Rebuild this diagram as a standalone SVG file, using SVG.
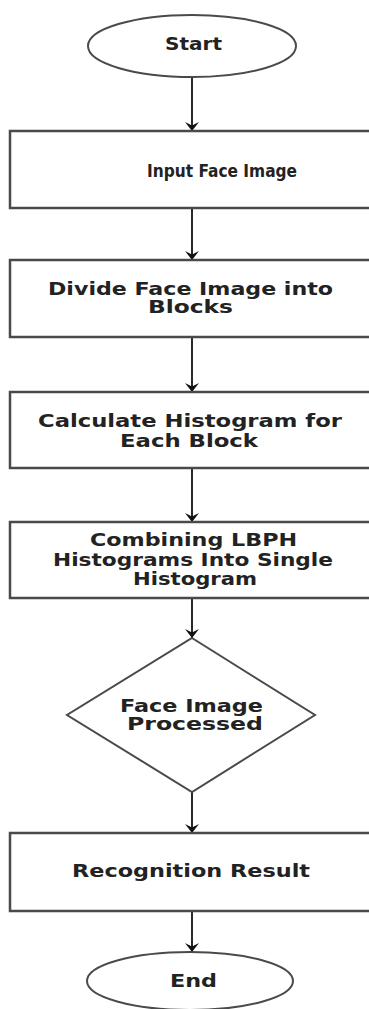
<svg xmlns="http://www.w3.org/2000/svg" width="369" height="1009" viewBox="0 0 369 1009">
  <style>
    .shape { fill: #ffffff; stroke: #4a4a4a; stroke-width: 2; }
    .box { fill: #ffffff; stroke: #4a4a4a; stroke-width: 2.5; }
    .label { font-family: "DejaVu Sans", "Liberation Sans", sans-serif; font-weight: bold; font-size: 17px; fill: #222222; text-anchor: middle; }
    .link { stroke: #111111; stroke-width: 1.8; fill: none; marker-end: url(#head); }
  </style>
  <defs>
    <!-- chevron-shaped arrowhead, drawn along +x so orient="auto" turns it down the line -->
    <marker id="head" viewBox="0 0 9 14" refX="9" refY="7" markerWidth="9" markerHeight="14" markerUnits="userSpaceOnUse" orient="auto">
      <path d="M0,0 L9,7 L0,14 L3.5,7 Z" fill="#111111"/>
    </marker>
  </defs>
  <rect width="369" height="1009" fill="#ffffff"/>

  <g id="connectors">
    <line class="link" x1="192" y1="78" x2="192" y2="131"/>
    <line class="link" x1="192" y1="208" x2="192" y2="260"/>
    <line class="link" x1="192" y1="337" x2="192" y2="392"/>
    <line class="link" x1="192" y1="468" x2="192" y2="522"/>
    <line class="link" x1="192" y1="598" x2="192" y2="638"/>
    <line class="link" x1="192" y1="792" x2="192" y2="833"/>
    <line class="link" x1="192" y1="911" x2="192" y2="952"/>
  </g>

  <g id="start">
    <ellipse class="shape" cx="192" cy="46" rx="104" ry="31"/>
    <text class="label" x="193.5" y="50" textLength="57" lengthAdjust="spacingAndGlyphs">Start</text>
  </g>

  <g id="input-face-image">
    <rect class="box" x="10" y="131" width="440" height="77"/>
    <text class="label" x="222" y="177" textLength="150" lengthAdjust="spacingAndGlyphs">Input Face Image</text>
  </g>

  <g id="divide-blocks">
    <rect class="box" x="10" y="260" width="440" height="77"/>
    <text class="label" x="190.5" y="295" textLength="285" lengthAdjust="spacingAndGlyphs">Divide Face Image into</text>
    <text class="label" x="190.5" y="313" textLength="85" lengthAdjust="spacingAndGlyphs">Blocks</text>
  </g>

  <g id="calculate-histogram">
    <rect class="box" x="10" y="392" width="440" height="76"/>
    <text class="label" x="190" y="427" textLength="304" lengthAdjust="spacingAndGlyphs">Calculate Histogram for</text>
    <text class="label" x="189" y="447" textLength="138" lengthAdjust="spacingAndGlyphs">Each Block</text>
  </g>

  <g id="combine-histograms">
    <rect class="box" x="10" y="522" width="440" height="76"/>
    <text class="label" x="193.5" y="546" textLength="207" lengthAdjust="spacingAndGlyphs">Combining LBPH</text>
    <text class="label" x="193" y="566" textLength="280" lengthAdjust="spacingAndGlyphs">Histograms Into Single</text>
    <text class="label" x="195" y="585" textLength="124" lengthAdjust="spacingAndGlyphs">Histogram</text>
  </g>

  <g id="face-processed">
    <polygon class="shape" points="192,638 315,715 192,792 67,715"/>
    <text class="label" x="191.5" y="712" textLength="143" lengthAdjust="spacingAndGlyphs">Face Image</text>
    <text class="label" x="195" y="730" textLength="136" lengthAdjust="spacingAndGlyphs">Processed</text>
  </g>

  <g id="recognition-result">
    <rect class="box" x="10" y="833" width="440" height="78"/>
    <text class="label" x="191" y="877" textLength="238" lengthAdjust="spacingAndGlyphs">Recognition Result</text>
  </g>

  <g id="end">
    <ellipse class="shape" cx="190" cy="981" rx="103" ry="29"/>
    <text class="label" x="193.5" y="987" textLength="47" lengthAdjust="spacingAndGlyphs">End</text>
  </g>
</svg>
